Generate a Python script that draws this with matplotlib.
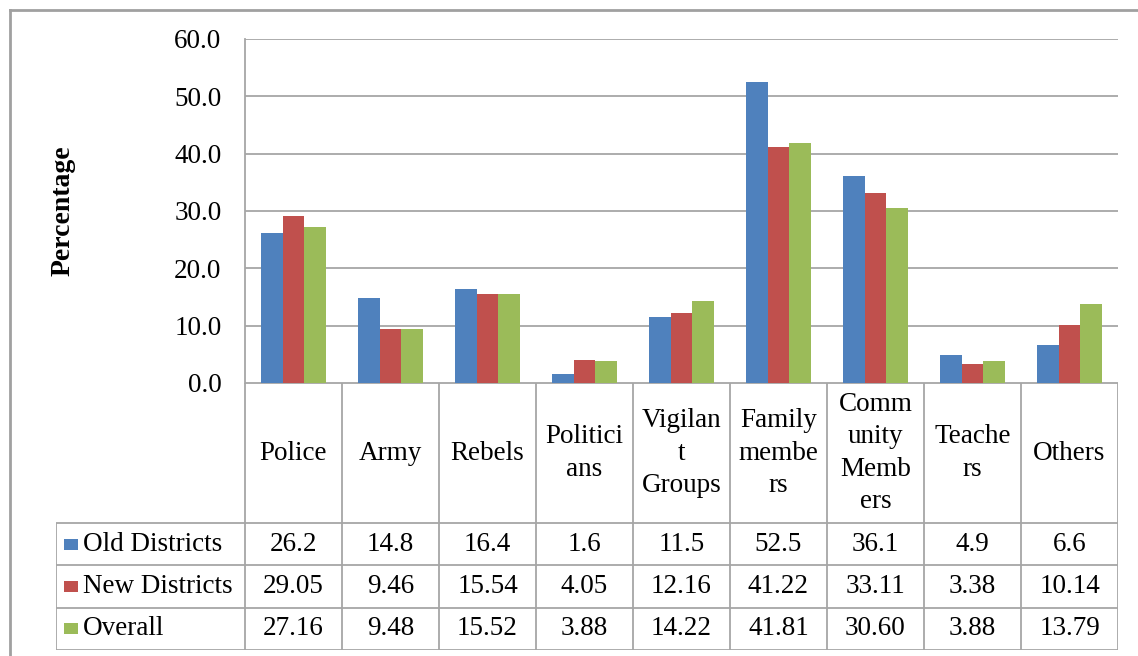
import matplotlib
matplotlib.use("Agg")
import matplotlib.pyplot as plt
plt.rcParams['font.family'] = 'serif'
plt.rcParams['font.serif'] = ['Liberation Serif', 'DejaVu Serif']
from matplotlib.lines import Line2D
from matplotlib.patches import Rectangle
import numpy as np

categories = ["Police", "Army", "Rebels", "Politici\nans", "Vigilan\nt\nGroups",
              "Family\nmembe\nrs", "Comm\nunity\nMemb\ners", "Teache\nrs", "Others"]
series_names = ["Old Districts", "New Districts", "Overall"]
old_districts = [26.2, 14.8, 16.4, 1.6, 11.5, 52.5, 36.1, 4.9, 6.6]
new_districts = [29.05, 9.46, 15.54, 4.05, 12.16, 41.22, 33.11, 3.38, 10.14]
overall = [27.16, 9.48, 15.52, 3.88, 14.22, 41.81, 30.60, 3.88, 13.79]
old_labels = ["26.2", "14.8", "16.4", "1.6", "11.5", "52.5", "36.1", "4.9", "6.6"]
new_labels = ["29.05", "9.46", "15.54", "4.05", "12.16", "41.22", "33.11", "3.38", "10.14"]
overall_labels = ["27.16", "9.48", "15.52", "3.88", "14.22", "41.81", "30.60", "3.88", "13.79"]
yticks = [0, 10, 20, 30, 40, 50, 60]

colors = ["#4F81BD", "#C0504D", "#9BBB59"]
grid_c = "#A6A6A6"
FS = 19.5

W, H = 1138, 656
fig = plt.figure(figsize=(W / 100, H / 100), dpi=100)

# plot area (pixels)
px_l, px_r, px_t, px_b = 245, 1118, 39, 383
ax = fig.add_axes([px_l / W, 1 - px_b / H, (px_r - px_l) / W, (px_b - px_t) / H])
n = len(categories)
x = np.arange(n)
bw = 1 / 4.5
series = [old_districts, new_districts, overall]
for i, (vals, c) in enumerate(zip(series, colors)):
    ax.bar(x + (i - 1) * bw, vals, width=bw, color=c, edgecolor="none", zorder=3)
ax.set_xlim(-0.5, n - 0.5)
ax.set_ylim(0, 60)
ax.set_yticks(yticks)
ax.set_yticklabels([f"{v:.1f}" for v in yticks], fontsize=FS)
ax.tick_params(axis="y", length=0, pad=17)
ax.set_xticks([])
ax.grid(axis="y", color=grid_c, lw=1.3, zorder=0)
for s in ["top", "right", "bottom"]:
    ax.spines[s].set_visible(False)
ax.spines["left"].set_color(grid_c)
ax.spines["left"].set_linewidth(1.3)
ax.set_ylabel("Percentage", fontsize=20, fontweight="bold", labelpad=0)
ax.yaxis.set_label_coords((76 - px_l) / (px_r - px_l), 0.5)

# data table axes
tb_l, tb_r, tb_t, tb_b = 56, 1118, 383, 650
tab = fig.add_axes([tb_l / W, 1 - tb_b / H, (tb_r - tb_l) / W, (tb_b - tb_t) / H])
cat_w = (px_r - px_l) / n
left_units = (px_l - tb_l) / cat_w
tab.set_xlim(-0.5 - left_units, n - 0.5)
tab.set_ylim(0, tb_b - tb_t)
tab.axis("off")
row_h = (tb_b - 523) / 3
head_bot = 3 * row_h
top = tb_b - tb_t
lkw = dict(color=grid_c, lw=1.3, solid_capstyle="butt")
tab.plot([-0.5, n - 0.5], [top, top], **lkw)
for r in range(4):
    yv = r * row_h
    tab.plot([-0.5 - left_units, n - 0.5], [yv, yv], **lkw)
for b in range(n + 1):
    tab.plot([b - 0.5, b - 0.5], [0, top], **lkw)
tab.plot([-0.5 - left_units] * 2, [0, head_bot], **lkw)

for i, cat in enumerate(categories):
    tab.text(i, (head_bot + top) / 2, cat, ha="center", va="center", fontsize=FS,
             linespacing=1.38)

rows_labels = [old_labels, new_labels, overall_labels]
for r, (name, labs, c) in enumerate(zip(series_names, rows_labels, colors)):
    yc = head_bot - (r + 0.5) * row_h
    key_x = -0.5 - left_units + 8 / cat_w
    tab.add_patch(Rectangle((key_x, yc - 5.5), 14 / cat_w, 11, color=c, lw=0))
    tab.text(-0.5 - left_units + 27 / cat_w, yc, name, ha="left", va="center",
             fontsize=FS)
    for i, lab in enumerate(labs):
        tab.text(i, yc, lab, ha="center", va="center", fontsize=FS)

fig.add_artist(Line2D([10 / W, 10 / W], [0, 1 - 10 / H], transform=fig.transFigure,
                      color="#A0A0A0", lw=2))
fig.add_artist(Line2D([10 / W, 1], [1 - 10 / H, 1 - 10 / H], transform=fig.transFigure,
                      color="#A0A0A0", lw=2))

fig.savefig("out.png", dpi=100, facecolor="white")
